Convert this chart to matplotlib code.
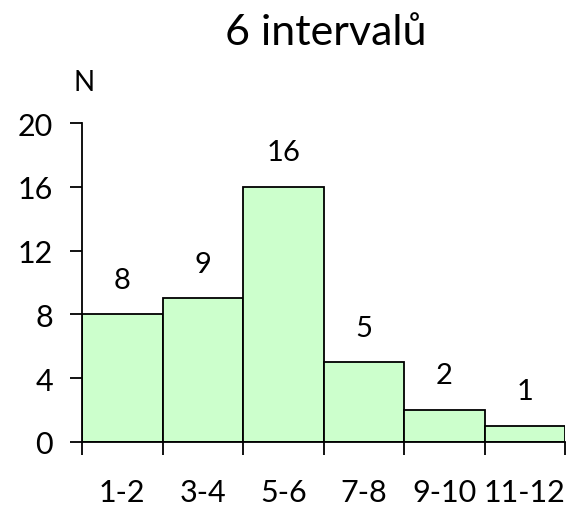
import matplotlib
matplotlib.use("Agg")
import matplotlib.pyplot as plt
import numpy as np

title = "6 intervalů"
categories = ["1-2", "3-4", "5-6", "7-8", "9-10", "11-12"]
counts = [8, 9, 16, 5, 2, 1]
yticks = [0, 4, 8, 12, 16, 20]
ylabel = "N"

plt.rcParams['font.family'] = ['Lato', 'DejaVu Sans']

fig = plt.figure(figsize=(5.69, 5.10), dpi=100)
ax = fig.add_axes([82/569, 1 - 443/510, (565 - 82)/569, (443 - 124)/510])

x = np.arange(len(categories))
bars = ax.bar(x, counts, width=1.0, align='center', color='#ccffcc',
              edgecolor='black', linewidth=1.3)

ax.set_xlim(-0.5, len(categories) - 0.5)
ax.set_ylim(0, 20)
ax.set_yticks(yticks)
ax.set_yticklabels([str(v) for v in yticks], fontsize=22)

ax.set_xticks(np.arange(len(categories) + 1) - 0.5)
ax.set_xticklabels([])
ax.set_xticks(x, minor=True)
ax.set_xticklabels(categories, minor=True, fontsize=22)
ax.tick_params(axis='x', which='major', direction='out', length=9, width=1.3)
ax.tick_params(axis='x', which='minor', length=0, pad=26)
ax.tick_params(axis='y', direction='out', length=9, width=1.3, pad=12)

for s in ['top', 'right']:
    ax.spines[s].set_visible(False)
for s in ['left', 'bottom']:
    ax.spines[s].set_linewidth(1.3)

for xi, c in zip(x, counts):
    ax.annotate(str(c), (xi, c), xytext=(0, 25), textcoords='offset points',
                ha='center', va='center', fontsize=21)

ax.text(0.005, 1.127, ylabel, transform=ax.transAxes, ha='center', va='center', fontsize=20)
fig.text(326/569, 1 - 33/510, title, ha='center', va='center', fontsize=31)

fig.savefig("out.png", dpi=100)
